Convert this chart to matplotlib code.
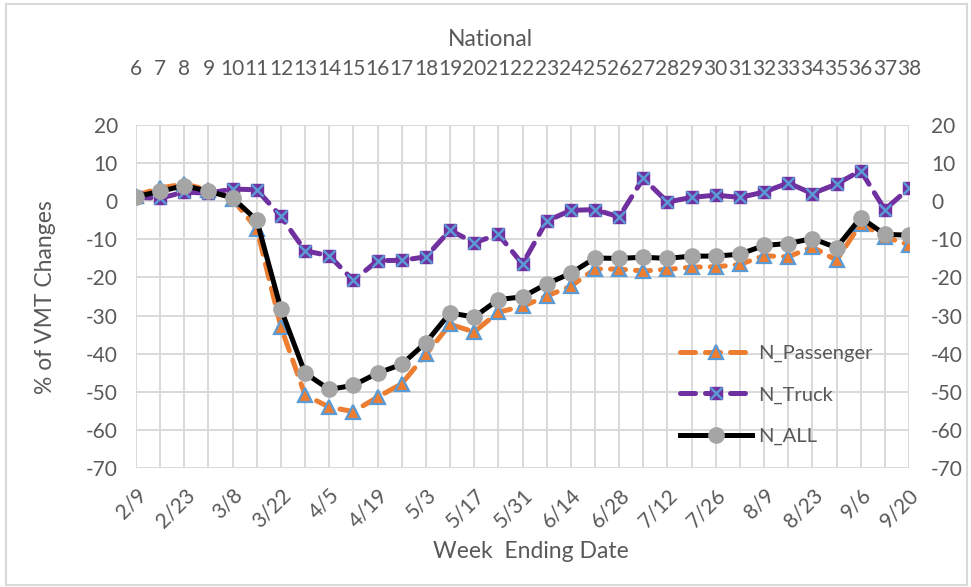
import matplotlib.pyplot as plt
from matplotlib.patches import Rectangle
from matplotlib.transforms import ScaledTranslation

plt.rcParams['font.family'] = ['Lato', 'DejaVu Sans']
plt.rcParams['axes.unicode_minus'] = False

# weekly data, week 6 .. 38
weeks = list(range(6, 39))
dates = ['2/9', '2/16', '2/23', '3/1', '3/8', '3/15', '3/22', '3/29', '4/5', '4/12',
         '4/19', '4/26', '5/3', '5/10', '5/17', '5/24', '5/31', '6/7', '6/14', '6/21',
         '6/28', '7/5', '7/12', '7/19', '7/26', '8/2', '8/9', '8/16', '8/23', '8/30',
         '9/6', '9/13', '9/20']

n_passenger = [1.5, 3.5, 4.5, 3.0, 0.5, -7.2, -33.0, -50.9, -54.0, -55.2,
               -51.4, -47.9, -40.2, -32.3, -34.3, -29.1, -27.6, -24.9, -22.3, -17.8,
               -17.8, -18.3, -17.9, -17.3, -17.2, -16.6, -14.3, -14.6, -12.0, -15.5,
               -5.9, -9.4, -11.4]
n_truck = [1.0, 0.8, 2.4, 2.1, 3.2, 3.0, -4.0, -13.0, -14.3, -20.8,
           -15.6, -15.5, -14.6, -7.6, -10.9, -8.7, -16.5, -5.2, -2.4, -2.2,
           -4.1, 6.0, -0.2, 1.0, 1.6, 1.0, 2.4, 4.8, 2.0, 4.5,
           8.0, -2.2, 3.4]
n_all = [1.2, 2.6, 4.1, 2.6, 0.9, -5.0, -28.3, -45.1, -49.4, -48.3,
         -45.1, -42.8, -37.1, -29.3, -30.4, -25.8, -25.1, -21.7, -18.9, -14.9,
         -15.0, -14.7, -15.0, -14.4, -14.4, -13.9, -11.6, -11.1, -9.8, -12.2,
         -4.3, -8.7, -8.9]

x = list(range(len(weeks)))
txt = '#595959'
grid_c = '#D9D9D9'
blue = '#5B9BD5'
W, H = 971, 587

fig = plt.figure(figsize=(9.71, 5.87), dpi=100)
ax = fig.add_axes([136 / W, 1 - 468 / H, 773 / W, 343 / H])
# chart border
fig.patches.append(Rectangle((6 / W, 2 / H), 961 / W, 581 / H, transform=fig.transFigure,
                             fill=False, edgecolor=grid_c, lw=1.5))

lw = 3.6
p, = ax.plot(x, n_passenger, color='#ED7D31', lw=lw, ls=(0, (3.0, 2.0)),
             dash_capstyle='round', marker='^', ms=9.5, mfc='#ED7D31', mec=blue,
             mew=1.6, zorder=3)
t1, = ax.plot(x, n_truck, color='#7030A0', lw=lw, ls=(0, (3.0, 2.0)),
              dash_capstyle='round', marker='s', ms=9, mfc='#7030A0', mec='#7030A0',
              zorder=4)
t2, = ax.plot(x, n_truck, ls='none', marker='x', ms=9, mec=blue, mew=1.8, zorder=4)
a, = ax.plot(x, n_all, color='black', lw=lw, marker='o', ms=11, mfc='#A5A5A5',
             mec='#A5A5A5', zorder=5)

ax.set_xlim(0, len(x) - 1)
ax.set_ylim(-70, 20)
ax.set_yticks(range(-70, 21, 10))
ax.set_xticks(x)
ax.set_xticklabels([d if i % 2 == 0 else '' for i, d in enumerate(dates)],
                   rotation=45, ha='right', va='top', rotation_mode='anchor',
                   fontsize=15)
shift = ScaledTranslation(5 / 72, 0, fig.dpi_scale_trans)
for lab in ax.get_xticklabels():
    lab.set_transform(lab.get_transform() + shift)
ax.grid(True, color=grid_c, lw=1.4, zorder=0)
ax.set_axisbelow(True)
for s in ax.spines.values():
    s.set_visible(False)
ax.tick_params(length=0, colors=txt)
ax.tick_params(axis='y', pad=13, labelsize=15)
ax.tick_params(axis='x', pad=12)

ax2 = ax.twinx()
ax2.set_ylim(-70, 20)
ax2.set_yticks(range(-70, 21, 10))
ax2.tick_params(length=0, colors=txt, labelsize=15, pad=16)
ax3 = ax.twiny()
ax3.set_xlim(0, len(x) - 1)
ax3.set_xticks(x)
ax3.set_xticklabels([str(w) for w in weeks])
ax3.tick_params(length=0, colors=txt, labelsize=15, pad=33)
for axx in (ax2, ax3):
    for s in axx.spines.values():
        s.set_visible(False)

fig.text(45 / W, 1 - 297 / H, '% of VMT Changes', rotation=90, ha='center',
         va='center', fontsize=16.5, color=txt)
fig.text(531 / W, 1 - 551 / H, 'Week  Ending Date', ha='center', va='center',
         fontsize=16.5, color=txt)
fig.text(490 / W, 1 - 40 / H, 'National', ha='center', va='center', fontsize=16.5,
         color=txt)

leg = ax.legend([p, (t1, t2), a], ['N_Passenger', 'N_Truck', 'N_ALL'],
                loc='upper left', bbox_to_anchor=(0.68, 0.412), frameon=False,
                fontsize=14.5, handlelength=3.6, labelspacing=1.2, handletextpad=0.3,
                labelcolor=txt)
leg.set_zorder(10)

fig.savefig('out.png', dpi=100)
